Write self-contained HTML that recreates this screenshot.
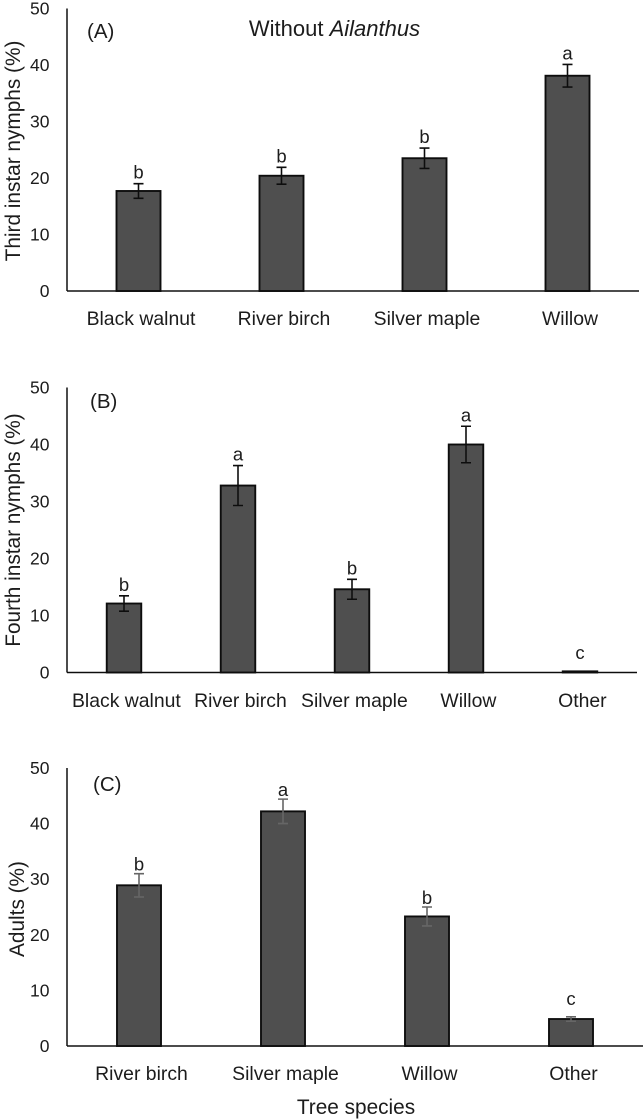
<!DOCTYPE html>
<html>
<head>
<meta charset="utf-8">
<title>Tree species bar charts</title>
<style>
html,body{margin:0;padding:0;background:#fff;width:644px;height:1120px;overflow:hidden}
svg{display:block}
text{font-family:"Liberation Sans",sans-serif;fill:#1c1c1c}
</style>
</head>
<body>
<svg id="chart" xmlns="http://www.w3.org/2000/svg" width="644" height="1120" viewBox="0 0 644 1120">
<defs><filter id="soft" x="-2%" y="-2%" width="104%" height="104%"><feGaussianBlur stdDeviation="0.35"/></filter></defs>
<g id="root" filter="url(#soft)"></g>
</svg>
<script>
const tickLabels = [0, 10, 20, 30, 40, 50];

const categoriesA = ["Black walnut", "River birch", "Silver maple", "Willow"];
const valuesA = [17.7, 20.4, 23.5, 38.1];
const errorsA = [1.3, 1.5, 1.8, 2.0];
const lettersA = ["b", "b", "b", "a"];

const categoriesB = ["Black walnut", "River birch", "Silver maple", "Willow", "Other"];
const valuesB = [12.1, 32.8, 14.6, 40.0, 0.2];
const errorsB = [1.35, 3.5, 1.75, 3.2, 0.1];
const lettersB = ["b", "a", "b", "a", "c"];

const categoriesC = ["River birch", "Silver maple", "Willow", "Other"];
const valuesC = [28.9, 42.2, 23.3, 4.85];
const errorsC = [2.1, 2.2, 1.7, 0.4];
const lettersC = ["b", "a", "b", "c"];

const NS = "http://www.w3.org/2000/svg";
const root = document.getElementById("root");

function make(tag, attrs, parent, content) {
  const el = document.createElementNS(NS, tag);
  for (const k in attrs) el.setAttribute(k, attrs[k]);
  if (content !== undefined) el.textContent = content;
  parent.appendChild(el);
  return el;
}

function drawPanel(cfg) {
  const g = make("g", {}, root);
  
  
  const yScale = v => cfg.y0 - (v / 50) * (cfg.y0 - cfg.y50);
  const band = (cfg.xEnd - cfg.x0) / cfg.categories.length;
  const xScale = i => cfg.x0 + band * (i + 0.5);

  const yAxis = make("line", {x1: cfg.x0, x2: cfg.x0, y1: yScale(50), y2: cfg.y0, stroke: "#111", "stroke-width": 1.5}, g);
  
  

  tickLabels.forEach(t => {
    const lab = make("text", {x: 49.5, y: yScale(t) + 6, "text-anchor": "end", "font-size": 17.5}, g, String(t));
    
    
  });

  cfg.categories.forEach((c, i) => {
    const cx = xScale(i);
    const bar = make("rect", {
      x: cx - cfg.barW / 2, y: yScale(cfg.values[i]), width: cfg.barW,
      height: cfg.y0 - yScale(cfg.values[i]),
      fill: "#505050", stroke: "#111", "stroke-width": 1.9
    }, g);
    
    

    const hi = yScale(cfg.values[i] + cfg.errors[i]);
    const lo = yScale(cfg.values[i] - cfg.errors[i]);
    if (cfg.errors[i] > 0.2) {
      const err = make("path", {
        d: `M${cx - 5} ${hi}H${cx + 5}M${cx} ${hi}V${lo}M${cx - 5} ${lo}H${cx + 5}`,
        fill: "none", stroke: cfg.errColor, "stroke-width": 1.6
      }, g);
      
      
    }

    const gap = cfg.errors[i] <= 0.4 ? 12 : cfg.letterGap;
    const letter = make("text", {x: cx, y: hi - gap, "text-anchor": "middle", "font-size": 18.5}, g, cfg.letters[i]);
    
    

    const catLab = make("text", {x: cx + cfg.labelShift, y: cfg.labelY, "text-anchor": "middle", "font-size": 19.4}, g, c);
    
    
  });

  const xAxis = make("line", {x1: cfg.x0, x2: cfg.xEnd, y1: cfg.y0, y2: cfg.y0, stroke: "#111", "stroke-width": 1.6}, g);
  
  

  const title = make("text", {
    transform: `translate(${cfg.titleX},${cfg.titleY}) rotate(-90)`,
    "text-anchor": "middle", "font-size": 20.8
  }, g, cfg.title);
  
  

  const tag = make("text", {x: cfg.tagX, y: cfg.tagY, "font-size": 20.5}, g, cfg.tag);
  
  
}

drawPanel({id: "panel-a", categories: categoriesA, values: valuesA, errors: errorsA, letters: lettersA,
  x0: 67, xEnd: 639, y0: 291, y50: 8.5, barW: 44, errColor: "#111", letterGap: 5, labelShift: 2.5, labelY: 325,
  title: "Third instar nymphs (%)", titleX: 20, titleY: 151, tag: "(A)", tagX: 87, tagY: 38});

drawPanel({id: "panel-b", categories: categoriesB, values: valuesB, errors: errorsB, letters: lettersB,
  x0: 67, xEnd: 637, y0: 672.5, y50: 387.5, barW: 34.5, errColor: "#111", letterGap: 5, labelShift: 2.4, labelY: 707,
  title: "Fourth instar nymphs (%)", titleX: 20, titleY: 530, tag: "(B)", tagX: 90, tagY: 408});

drawPanel({id: "panel-c", categories: categoriesC, values: valuesC, errors: errorsC, letters: lettersC,
  x0: 67, xEnd: 643, y0: 1046, y50: 768, barW: 44, errColor: "#666", letterGap: 3, labelShift: 2.5, labelY: 1080,
  title: "Adults (%)", titleX: 24, titleY: 909, tag: "(C)", tagX: 93, tagY: 791});

const heading = make("text", {x: 334.5, y: 36, "text-anchor": "middle", "font-size": 22}, root);


heading.appendChild(document.createTextNode("Without "));
make("tspan", {"font-style": "italic"}, heading, "Ailanthus");

const xTitle = make("text", {x: 356, y: 1114, "text-anchor": "middle", "font-size": 20.8}, root, "Tree species");


</script>
</body>
</html>
